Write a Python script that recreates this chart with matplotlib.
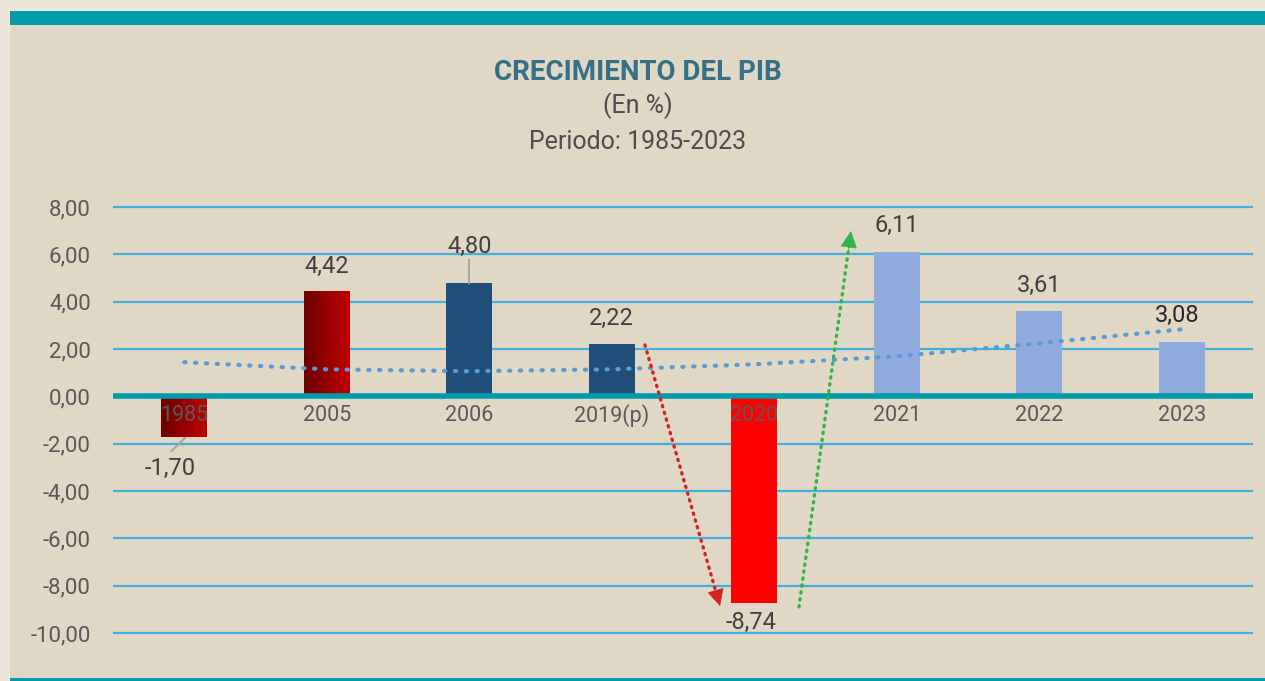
import numpy as np
import matplotlib
matplotlib.use("Agg")
import matplotlib.pyplot as plt
from matplotlib.colors import LinearSegmentedColormap
from matplotlib.patches import Rectangle

plt.rcParams["font.family"] = ["Roboto", "DejaVu Sans"]

# Data
years = ["1985", "2005", "2006", "2019(p)", "2020", "2021", "2022", "2023"]
growth = [-1.70, 4.42, 4.80, 2.22, -8.74, 6.11, 3.61, 2.30]
labels = ["-1,70", "4,42", "4,80", "2,22", "-8,74", "6,11", "3,61", "3,08"]
trend = [1.44, 1.14, 1.06, 1.14, 1.35, 1.69, 2.24, 2.83]
colors = ["grad", "grad", "#1f4e79", "#1f4e79", "#ff0000", "#8faadc", "#8faadc", "#8faadc"]

# label positions (x offset, y) in data units
label_pos = [(-0.1, -3.05), (0, 5.5), (0, 6.35), (0, 3.27), (-0.02, -9.55), (0, 7.2), (0, 4.7), (-0.03, 3.4)]

fig = plt.figure(figsize=(12.65, 6.81), dpi=100)
fig.patch.set_facecolor("#ede6da")

W, H = 1265, 681
# inner panel and teal bands
fig.patches.append(Rectangle((10 / W, 0), 1 - 10 / W, 1 - 25 / H, transform=fig.transFigure,
                             facecolor="#e1d7c5", edgecolor="none", zorder=-3))
fig.patches.append(Rectangle((10 / W, 1 - 25 / H), 1 - 10 / W, 14 / H, transform=fig.transFigure,
                             facecolor="#009cac", edgecolor="none", zorder=-2))
fig.patches.append(Rectangle((10 / W, 0), 1 - 10 / W, 3.5 / H, transform=fig.transFigure,
                             facecolor="#009cac", edgecolor="none", zorder=-2))

ppu = 426 / 18.0
y0 = 396.3
ymin, ymax = -10.25, 8.25
top_px = y0 - ymax * ppu
bot_px = y0 - ymin * ppu
ax = fig.add_axes([113 / W, 1 - bot_px / H, 1140 / W, (bot_px - top_px) / H])
ax.set_facecolor("none")
ax.set_xlim(-0.5, 7.5)
ax.set_ylim(ymin, ymax)

for s in ax.spines.values():
    s.set_visible(False)

ticks = np.arange(-10, 9, 2)
ax.set_yticks(ticks)
ax.set_yticklabels([f"{t:.2f}".replace(".", ",") for t in ticks], fontsize=16, color="#595959")
ax.tick_params(axis="y", length=0, pad=16)
ax.set_xticks([])
for t in ticks:
    if t != 0:
        ax.axhline(t, color="#3fb0df", lw=1.6, zorder=1)

x = np.arange(len(years))
w = 0.32
bars = ax.bar(x, growth, width=w, color=["none" if c == "grad" else c for c in colors], zorder=2)

grad_cmap = LinearSegmentedColormap.from_list("redgrad", ["#6e0000", "#c00000"])
for i, c in enumerate(colors):
    if c == "grad":
        v = growth[i]
        ax.imshow(np.linspace(0, 1, 50).reshape(1, -1), cmap=grad_cmap, aspect="auto",
                  extent=(x[i] - w / 2, x[i] + w / 2, min(0, v), max(0, v)), zorder=2)
ax.set_xlim(-0.5, 7.5)
ax.set_ylim(ymin, ymax)

ax.axhline(0, color="#009cac", lw=4, zorder=3)

# trend line
ax.plot(x, trend, color="#5b9bd5", lw=3, linestyle=(0, (0.3, 2.3)), dash_capstyle="round", zorder=4)

# category labels
for i, yr in enumerate(years):
    ax.text(x[i], -0.8, yr, ha="center", va="center", fontsize=15.5, color="#595959", zorder=5)

# data labels
for i, lab in enumerate(labels):
    dx, yy = label_pos[i]
    ax.text(x[i] + dx, yy, lab, ha="center", va="center", fontsize=17,
            color="#262626" if i == 7 else "#404040", zorder=5)

# leader lines
ax.plot([2, 2], [4.78, 5.76], color="#a6a6a6", lw=1.5, zorder=4)
ax.plot([0.005, -0.09], [-1.76, -2.31], color="#a6a6a6", lw=1.5, zorder=4)

# arrows
def dotted_arrow(start, end, color):
    d = np.array(end) - np.array(start)
    stop = np.array(end) - d * 0.04
    ax.plot([start[0], stop[0]], [start[1], stop[1]], color=color, lw=2.4,
            linestyle=(0, (0.4, 1.7)), dash_capstyle="round", zorder=4)
    back = np.array(end) - d * 0.06
    ax.annotate("", xy=end, xytext=tuple(back),
                arrowprops=dict(arrowstyle="-|>,head_length=1.1,head_width=0.55", color=color,
                                lw=0.5, shrinkA=0, shrinkB=0), zorder=5)

dotted_arrow((3.233, 2.17), (3.76, -8.86), "#d42027")
dotted_arrow((4.314, -8.90), (4.679, 6.98), "#2fb54a")

# titles
fig.text(638 / W, 1 - 72 / H, "CRECIMIENTO DEL PIB", ha="center", va="center",
         fontsize=20, fontweight="bold", color="#367087")
fig.text(638 / W, 1 - 106 / H, "(En %)", ha="center", va="center", fontsize=18, color="#4d4d4d")
fig.text(638 / W, 1 - 142 / H, "Periodo: 1985-2023", ha="center", va="center", fontsize=18, color="#4d4d4d")

fig.savefig("out.png", dpi=100, facecolor=fig.get_facecolor())
